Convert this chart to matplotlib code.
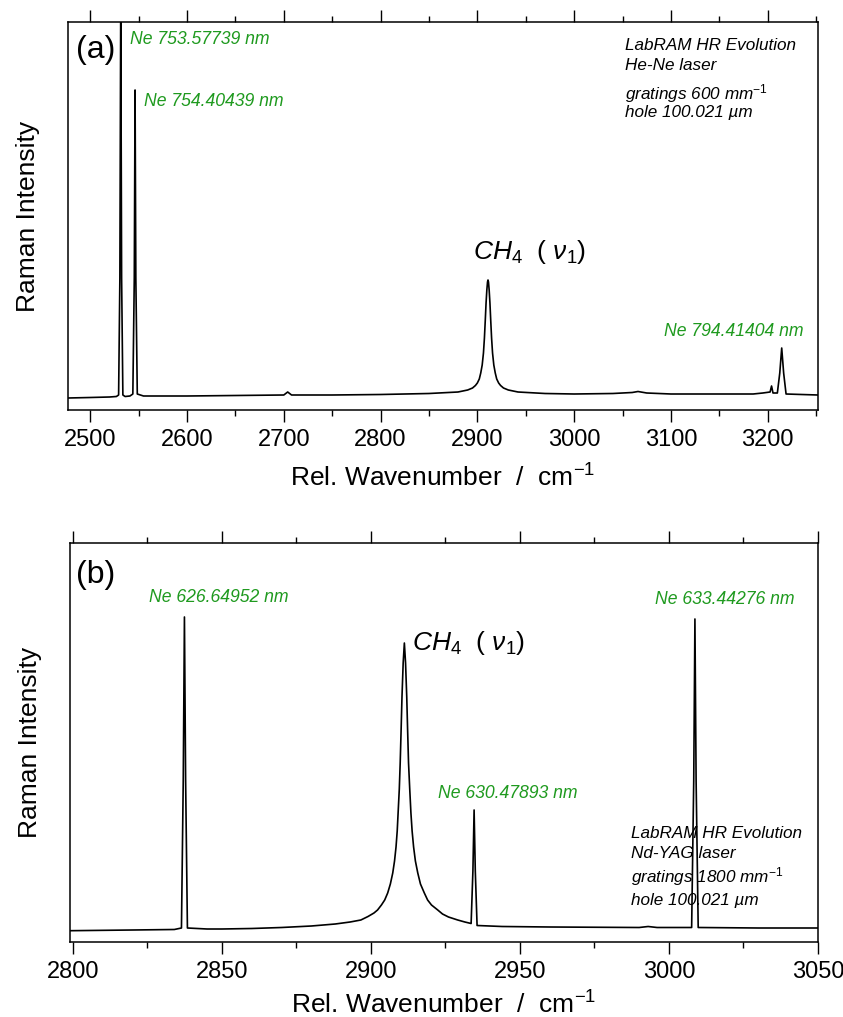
import matplotlib
matplotlib.use("Agg")
import matplotlib.pyplot as plt
from matplotlib.ticker import MultipleLocator

plt.rcParams['font.family'] = ['Liberation Sans', 'DejaVu Sans']
plt.rcParams['mathtext.fontset'] = 'custom'
plt.rcParams['mathtext.rm'] = 'Liberation Sans'
plt.rcParams['mathtext.it'] = 'Liberation Sans:italic'
plt.rcParams['mathtext.bf'] = 'Liberation Sans:bold'

# ---- panel (a): He-Ne laser spectrum (traced points) ----
wn_a = [2477, 2500, 2520, 2527, 2529.3, 2530.6, 2531.5, 2532.4, 2533.7, 2536, 2541,
        2544, 2545.5, 2546.3, 2547.1, 2548.6, 2555, 2600, 2650, 2700, 2704, 2708,
        2750, 2800, 2850, 2880, 2890, 2895, 2898, 2900, 2902, 2903.5, 2905, 2906.3,
        2907.3, 2908.2, 2909, 2909.8, 2910.5, 2911, 2911.5, 2912.2, 2913, 2913.8,
        2914.7, 2915.7, 2917, 2918.5, 2920, 2922, 2924, 2927, 2932, 2942,
        2970, 3000, 3040, 3060, 3066, 3075, 3100,
        3150, 3185, 3195, 3202.5, 3204, 3205.5, 3210, 3212.5, 3214.5, 3216.5,
        3219, 3235, 3252]
int_a = [0, 0.5, 1, 1.5, 3, 120, 400, 120, 3, 1.5, 2,
         4, 120, 308, 120, 4, 2, 2, 2.5, 3, 6, 3,
         3, 3.5, 4.5, 6, 8, 10, 12.5, 15, 19, 25, 33, 45,
         60, 78, 95, 108, 116, 118, 116, 108, 95, 78,
         60, 45, 33, 25, 19, 15, 12.5, 10, 8, 6,
         4.5, 4, 4.5, 5.5, 6.5, 5, 4,
         4, 4, 5, 6, 12, 5, 5, 25, 50, 25,
         4, 3.5, 3]

# ---- panel (b): Nd-YAG laser spectrum (traced points) ----
wn_b = [2799, 2820, 2834, 2836.4, 2837.0, 2837.4, 2837.8, 2838.4, 2845, 2850,
        2860, 2870, 2880, 2888, 2893, 2896.6, 2899, 2901, 2902.2, 2903.5, 2904.6,
        2905.6, 2906.5, 2907.3, 2907.9, 2908.4, 2908.8, 2909.1, 2909.5, 2909.8,
        2910.1, 2910.4, 2910.8, 2911.2, 2911.6, 2912.0, 2912.3, 2912.6, 2913.0,
        2913.4, 2913.8, 2914.3, 2914.9, 2915.7, 2916.6, 2917.9, 2919, 2920.3,
        2922.4, 2924, 2926, 2929.1, 2931.5, 2933.6, 2934.2, 2934.6, 2935.0,
        2935.6, 2944, 2960, 2990, 2993, 2996, 3007.6, 3008.3, 3008.7, 3009.1,
        3009.8, 3030, 3050]
int_b = [0.3, 1, 1.5, 3, 150, 314, 150, 3, 2, 2,
         2.5, 3.5, 5, 7, 9, 11, 14.5, 18, 21, 26, 31,
         38, 47, 58, 70, 84, 100, 118, 142, 168,
         200, 234, 268, 288, 268, 234, 200, 168, 142,
         118, 100, 84, 70, 58, 47, 38, 31, 26,
         21, 17, 14, 11, 9, 7.5, 60, 121, 60,
         5.5, 4.5, 4, 3.5, 4.5, 3.5, 3.5, 150, 312, 150,
         3.5, 3, 3]

ne_labels_a = ["Ne 753.57739 nm", "Ne 754.40439 nm", "Ne 794.41404 nm"]
ne_labels_b = ["Ne 626.64952 nm", "Ne 633.44276 nm", "Ne 630.47893 nm"]
info_a = ["LabRAM HR Evolution", "He-Ne laser",
          r"gratings 600 mm$^{\mathit{-1}}$", "hole 100.021 µm"]
info_b = ["LabRAM HR Evolution", "Nd-YAG laser",
          r"gratings 1800 mm$^{\mathit{-1}}$", "hole 100.021 µm"]

GREEN = '#1f9a1f'
W, H = 843, 1017
fig = plt.figure(figsize=(W / 100, H / 100), dpi=100)

def fx(px):
    return px / W

def fy(py):
    return 1 - py / H

ax1 = fig.add_axes([fx(68), fy(410), fx(818) - fx(68), fy(22) - fy(410)])
ax2 = fig.add_axes([fx(70), fy(942), fx(818) - fx(70), fy(543) - fy(942)])

for ax, lp in ((ax1, 10), (ax2, 6)):
    for s in ax.spines.values():
        s.set_linewidth(1.1)
    ax.tick_params(axis='x', which='both', direction='out', top=True, bottom=True,
                   labeltop=False, width=1.0, labelsize=17, pad=5)
    ax.tick_params(axis='x', which='major', length=8.5)
    ax.tick_params(axis='x', which='minor', length=4)
    ax.tick_params(axis='y', which='both', left=False, right=False, labelleft=False)
    ax.set_xlabel(r'Rel. Wavenumber  /  cm$^{-1}$', fontsize=19, labelpad=lp)
    ax.set_ylabel('Raman Intensity', fontsize=19, labelpad=20)

ax1.plot(wn_a, int_a, color='black', lw=1.2)
ax1.set_xlim(2477, 3252)
ax1.set_ylim(-12, 376)
ax1.xaxis.set_major_locator(MultipleLocator(100))
ax1.xaxis.set_minor_locator(MultipleLocator(50))

ax2.plot(wn_b, int_b, color='black', lw=1.2)
ax2.set_xlim(2799, 3050)
ax2.set_ylim(-11, 388)
ax2.xaxis.set_major_locator(MultipleLocator(50))
ax2.xaxis.set_minor_locator(MultipleLocator(25))

def ftext(x, y, s, **kw):
    fig.text(fx(x), fy(y), s, **kw)

# panel letters
ftext(76, 50, '(a)', fontsize=23, va='center', ha='left')
ftext(76, 575, '(b)', fontsize=23, va='center', ha='left')

gkw = dict(color=GREEN, fontsize=12.7, style='italic', va='center')
ftext(130, 39, ne_labels_a[0], ha='left', **gkw)
ftext(144, 101, ne_labels_a[1], ha='left', **gkw)
ftext(803, 332, ne_labels_a[2], ha='right', **gkw)
ftext(149, 598, ne_labels_b[0], ha='left', **gkw)
ftext(655, 599, ne_labels_b[1], ha='left', **gkw)
ftext(438, 793, ne_labels_b[2], ha='left', **gkw)

ikw = dict(color='black', fontsize=12.3, style='italic', va='center', ha='left')
for txt, y in zip(info_a, [45, 66, 94, 113]):
    ftext(625, y, txt, **ikw)
for txt, y in zip(info_b, [833, 853, 877, 900]):
    ftext(631, y, txt, **ikw)

ch4 = r'$CH_4\ \ (\ \nu_1)$'
ftext(473, 252, ch4, fontsize=19, va='center', ha='left')
ftext(412, 643, ch4, fontsize=19, va='center', ha='left')

fig.savefig('out.png', dpi=100)
